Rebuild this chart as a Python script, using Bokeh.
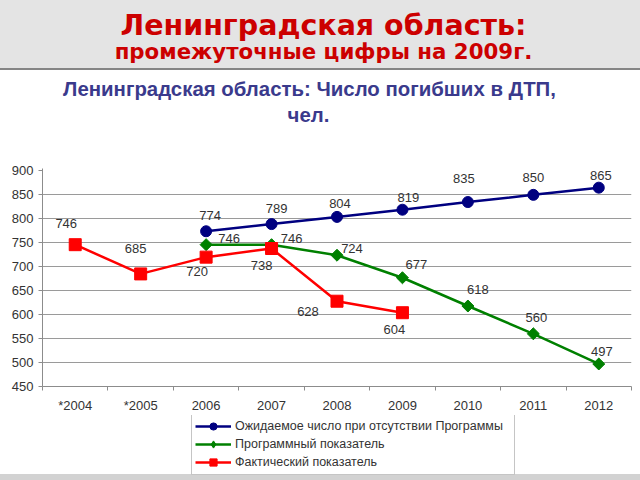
import numpy as np
from bokeh.plotting import figure
from bokeh.models import (ColumnDataSource, FixedTicker, Legend, LegendItem,
                          Range1d, LabelSet)
from bokeh.layouts import column
from bokeh.embed import file_html
from bokeh.resources import INLINE
from bokeh.core.properties import value

# ---------------- data ----------------
categories = ["*2004", "*2005", "2006", "2007", "2008", "2009", "2010", "2011", "2012"]

expected_years = ["2006", "2007", "2008", "2009", "2010", "2011", "2012"]
expected_values = [774, 789, 804, 819, 835, 850, 865]

program_years = ["2006", "2007", "2008", "2009", "2010", "2011", "2012"]
program_values = [746, 746, 724, 677, 618, 560, 497]

actual_years = ["*2004", "*2005", "2006", "2007", "2008", "2009"]
actual_values = [746, 685, 720, 738, 628, 604]

y_ticks = [450, 500, 550, 600, 650, 700, 750, 800, 850, 900]

series_names = ["Ожидаемое число при отсутствии Программы",
                "Программный показатель",
                "Фактический показатель"]
title_lines = ["Ленинградская область:", "промежуточные цифры на 2009г."]
subtitle_lines = ["Ленинградская область: Число погибших в ДТП,", "чел."]

# ---------------- styles ----------------
NAVY = "#000080"
GREEN = "#008000"
RED = "#ff0000"
TXT = "#333333"
AX = "#8c8c8c"
FONT = "Liberation Sans"
W = 640
BL, BR = 42, 9          # left / right borders shared by all stacked figures
LABEL_SHIFT = -2.5      # global vertical nudge of value labels (px, down positive)

# label offsets in screen px (right, down)
expected_dx = [4, 5, 3, 6, -4, 0, 2]
expected_dy = [-13, -13, -11, -10, -21, -15, -10]
program_dx = [23, 20, 15, 14, 10, 3, 3]
program_dy = [-4, -4, -4, -11, -14, -14, -10]
actual_dx = [-9, -5, -9, -10, -29, -8]
actual_dy = [-19, -23, 17, 19, 13, 19]


def blank(height, y0, y1):
    f = figure(width=W, height=height, x_range=Range1d(BL, W - BR), y_range=Range1d(y1, y0),
               toolbar_location=None, output_backend="svg",
               min_border_left=BL, min_border_right=BR, min_border_top=0, min_border_bottom=0,
               x_axis_location=None, y_axis_location=None)
    f.grid.visible = False
    f.outline_line_color = None
    f.background_fill_alpha = 0
    f.border_fill_alpha = 0
    return f


# ---------------- titles (page y 0..150) ----------------
head = blank(150, 0, 150)
head.text(x=[323], y=[25], text=[title_lines[0]], text_align="center", text_baseline="alphabetic",
          text_font=value("DejaVu Sans"), text_font_style="bold", text_font_size="28.5px",
          text_color="#cc0000")
head.text(x=[323], y=[51], text=[title_lines[1]], text_align="center", text_baseline="alphabetic",
          text_font=value("DejaVu Sans"), text_font_style="bold", text_font_size="21.3px",
          text_color="#cc0000")
head.text(x=[309], y=[88], text=[subtitle_lines[0]], text_align="center", text_baseline="alphabetic",
          text_font=value(FONT), text_font_style="bold", text_font_size="20.4px",
          text_color="#3a3a8c")
head.text(x=[308], y=[114], text=[subtitle_lines[1]], text_align="center", text_baseline="alphabetic",
          text_font=value(FONT), text_font_style="bold", text_font_size="20.4px",
          text_color="#3a3a8c")

# ---------------- chart (page y 150..415) ----------------
p = figure(width=W, height=265, x_range=Range1d(-0.5, 8.5), y_range=Range1d(450, 905),
           toolbar_location=None, output_backend="svg",
           min_border_left=BL, min_border_right=BR, min_border_top=18, min_border_bottom=28)
p.outline_line_color = None
p.background_fill_color = "white"
p.border_fill_color = "white"


def make_source(years, vals, dx, dy):
    return ColumnDataSource(dict(
        x=[categories.index(c) for c in years],
        y=vals,
        label=[str(v) for v in vals],
        dx=dx,
        dy=[-(d + LABEL_SHIFT) for d in dy],
    ))


src_e = make_source(expected_years, expected_values, expected_dx, expected_dy)
src_p = make_source(program_years, program_values, program_dx, program_dy)
src_a = make_source(actual_years, actual_values, actual_dx, actual_dy)

STYLE = {
    "e": (src_e, NAVY, dict(marker="circle", size=11), dict(marker="circle", size=11)),
    "p": (src_p, GREEN, dict(marker="square", angle=np.pi / 4, size=8.5),
          dict(marker="diamond", size=11)),
    "a": (src_a, RED, dict(marker="square", size=12), dict(marker="square", size=12)),
}


def draw(fig, key, legend_only=False):
    src, col, mk, mk_leg = STYLE[key]
    l = fig.line("x", "y", source=src, line_color=col, line_width=2.5)
    m = fig.scatter("x", "y", source=src, fill_color=col, line_color=col,
                    **(mk_leg if legend_only else mk))
    return l, m


for k in ("p", "a", "e"):
    draw(p, k)

for src in (src_e, src_p, src_a):
    p.add_layout(LabelSet(x="x", y="y", text="label", x_offset="dx", y_offset="dy", source=src,
                          text_align="center", text_baseline="middle",
                          text_font=value(FONT), text_font_size="13px", text_color=TXT))

# axes
p.xaxis.ticker = FixedTicker(ticks=list(range(len(categories))),
                             minor_ticks=[i - 0.5 for i in range(len(categories) + 1)])
p.xaxis.major_label_overrides = {i: c for i, c in enumerate(categories)}
p.xaxis.major_tick_line_color = None
p.xaxis.major_tick_out = 0
p.xaxis.major_tick_in = 0
p.xaxis.minor_tick_out = 4
p.xaxis.minor_tick_in = 0
p.xaxis.minor_tick_line_color = AX
p.xaxis.major_label_standoff = 7

p.yaxis.ticker = FixedTicker(ticks=y_ticks)
p.yaxis.major_tick_out = 4
p.yaxis.major_tick_in = 0
p.yaxis.major_tick_line_color = AX
p.yaxis.minor_tick_line_color = None
p.yaxis.major_label_standoff = 5

for ax in (p.xaxis, p.yaxis):
    ax.axis_line_color = AX
    ax.major_label_text_font = FONT
    ax.major_label_text_font_size = "13px"
    ax.major_label_text_color = TXT

p.xgrid.visible = False
p.ygrid.ticker = FixedTicker(ticks=y_ticks[1:-1])
p.ygrid.grid_line_color = "#9a9a9a"
p.ygrid.grid_line_width = 1

# ---------------- legend strip (page y 415..480) ----------------
leg = blank(65, 0, 65)
handles = {k: draw(leg, k, legend_only=True) for k in ("e", "p", "a")}  # data lies outside this strip

legend = Legend(items=[LegendItem(label=series_names[0], renderers=list(handles["e"])),
                       LegendItem(label=series_names[1], renderers=list(handles["p"])),
                       LegendItem(label=series_names[2], renderers=list(handles["a"]))],
                location=(149, 5), orientation="vertical",
                border_line_color="#8c8c8c", border_line_width=1,
                background_fill_color="white", background_fill_alpha=1.0,
                label_text_font=FONT, label_text_font_size="12.5px", label_text_color=TXT,
                glyph_width=36, glyph_height=18, label_height=18, label_width=276,
                label_standoff=4, spacing=0, padding=3, margin=0)
leg.add_layout(legend)

layout = column(head, p, leg, styles={
    "background-image": ("linear-gradient(to bottom, #e4e4e4 0px, #e4e4e4 68px, "
                         "#858585 68px, #858585 70px, #ffffff 70px, #ffffff 474px, "
                         "#d2d2d2 474px, #d2d2d2 480px)")})
open("out.html", "w").write(file_html(layout, INLINE))
